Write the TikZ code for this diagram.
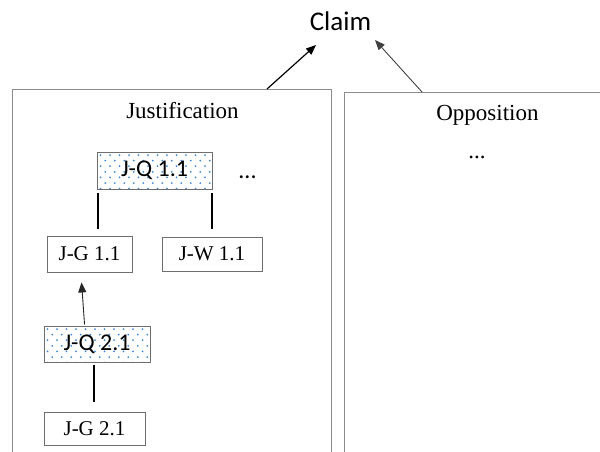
\documentclass[tikz,border=0pt]{standalone}
\usepackage{fontspec}
\setmainfont{Liberation Serif}
\newfontfamily\calib{Carlito}
\usetikzlibrary{arrows.meta,calc}
\definecolor{panelgray}{HTML}{8C8C8C}
\definecolor{boxgray}{HTML}{6E6E6E}
\definecolor{dotblue}{HTML}{3F8AD8}
\tikzset{
  x=1pt, y=-1pt,
  panel/.style={draw=panelgray, line width=1.2pt, fill=white, anchor=north west,
    inner sep=0pt, minimum height=420pt},
  plainbox/.style={draw=boxgray, line width=0.9pt, fill=white, inner sep=0pt,
    font=\fontsize{21}{24}\selectfont},
  qbox/.style={draw=boxgray, line width=0.9pt, fill=white, inner sep=0pt,
    font=\calib\fontsize{24}{28}\selectfont,
    path picture={
      \path (path picture bounding box.north west) coordinate (pnw);
      \foreach \r in {0,...,6}{
        \pgfmathsetmacro\off{mod(\r,2)*4.75}
        \foreach \c in {0,...,12}{
          \fill[dotblue] ($(pnw)+(3.5+\c*9.5+\off,3+\r*5.6)$) circle (1pt);
        }
      }
    }},
  link/.style={line width=2pt, black},
  arr/.style={-{Triangle[length=10pt,width=8pt]}, line width=1.2pt},
  heading/.style={anchor=base, font=\fontsize{23}{26}\selectfont}
}
\begin{document}
\begin{tikzpicture}
\useasboundingbox (0,0) rectangle (600,451);
\clip (0,0) rectangle (600,451);

% the two panels, open towards the bottom of the page
\node[panel, minimum width=319pt] (jpanel) at (12,89) {};
\node[panel, minimum width=280pt] (opanel) at (344,92) {};

\node[heading] (jtitle) at (182.5,118) {Justification};
\node[heading] (otitle) at (487.5,120) {Opposition};
\node[anchor=base, font=\fontsize{23}{26}\selectfont] (odots) at (477,158) {...};

% claim and its two supports
\node[anchor=base, font=\calib\fontsize{27}{30}\selectfont] (claim) at (340.5,30) {Claim};
\coordinate (jtop) at (267,89);
\coordinate (otop) at (422,92);
\coordinate (claimL) at (316,45);
\coordinate (claimR) at (375,40);
\draw[arr] (jtop) -- (claimL);
\draw[arr, line width=0.9pt, black!75] (otop) -- (claimR);

% justification tree
\node[qbox, minimum width=115pt, minimum height=37pt] (jq1) at (154.5,170.5) {J-Q 1.1};
\node[anchor=base, font=\calib\fontsize{24}{28}\selectfont] (jdots) at (247.5,178) {...};
\node[plainbox, minimum width=85pt, minimum height=36pt] (jg1) at (89.5,254) {J-G 1.1};
\node[plainbox, minimum width=100pt, minimum height=34pt] (jw1) at (212,254) {J-W 1.1};
\node[qbox, minimum width=106pt, minimum height=36pt] (jq2) at (97,344) {J-Q 2.1};
\node[plainbox, minimum width=101pt, minimum height=33pt] (jg2) at (94.5,428.5) {J-G 2.1};

% links hang a little apart from the boxes they join
\coordinate (l1a) at ($(jq1.south west)+(1.5,4)$);
\coordinate (l2a) at ($(jq1.south east)+(-0.5,4)$);
\coordinate (l3a) at ($(jq2.south west)+(50,3)$);
\draw[link] (l1a) -- (l1a |- {$(jg1.north)+(0,-7)$});
\draw[link] (l2a) -- (l2a |- {$(jw1.north)+(0,-8)$});
\draw[arr, line width=0.9pt, black!85] ($(jq2.north west)+(41,-1)$) -- ($(jg1.south west)+(35,10)$);
\draw[link] (l3a) -- (l3a |- {$(jg2.north)+(0,-10)$});
\end{tikzpicture}
\end{document}
